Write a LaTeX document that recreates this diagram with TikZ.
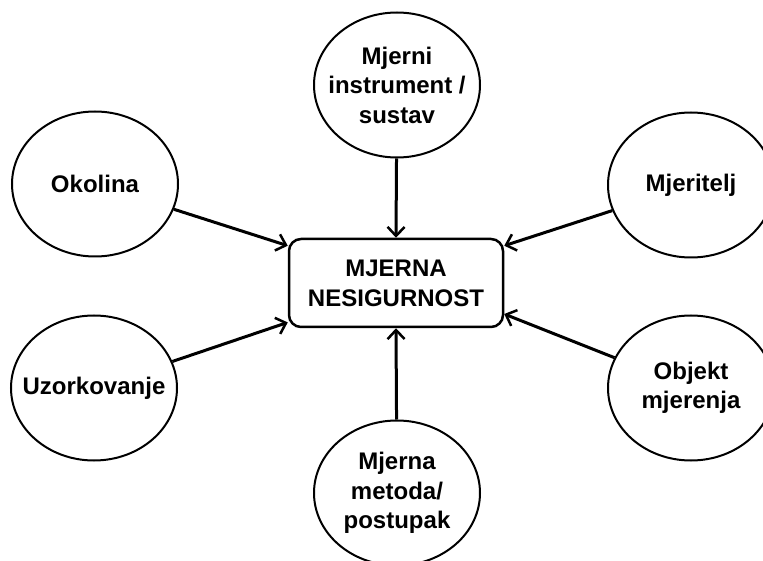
\documentclass[tikz,border=0pt]{standalone}
\usepackage{fontspec}
\setmainfont{Liberation Sans}
\usetikzlibrary{shapes.geometric,arrows.meta}
\tikzset{
  x=1pt, y=-1pt,
  ell/.style={draw=black, line width=2pt, ellipse, minimum width=166pt, minimum height=145pt, inner sep=0pt},
  lab/.style={align=center, font=\fontsize{24}{29.5}\selectfont\bfseries, inner sep=0pt},
  centre/.style={draw=black, line width=2.5pt, rounded corners=12pt, minimum width=214pt, minimum height=88pt, align=center, font=\fontsize{24}{30}\selectfont\bfseries},
  arr/.style={line width=3pt, -{Straight Barb[length=9pt,width=17pt,line width=2.5pt]}}
}
\begin{document}
\begin{tikzpicture}
\useasboundingbox (0,0) rectangle (763,561);
\node[centre] (box) at (396,283) {MJERNA\\NESIGURNOST};
\node[ell, label={[lab]center:Mjerni\\instrument /\\sustav}] (instr) at (397,85) {};
\node[ell, label={[lab]center:Okolina}] (okolina) at (95,184) {};
\node[ell, label={[lab]center:Mjeritelj}] (mjeritelj) at (691,185) {};
\node[ell, label={[lab]center:Uzorkovanje}] (uzork) at (94,388) {};
\node[ell, label={[lab]center:Objekt\\mjerenja}] (objekt) at (691,388) {};
\node[ell, label={[lab]center:Mjerna\\metoda/\\postupak}] (metoda) at (397,493) {};
\draw[arr] (instr) -- (box.north);
\draw[arr] (metoda) -- (box.south);
\draw[arr] (okolina) -- (box.161);
\draw[arr] (mjeritelj) -- (box.19);
\draw[arr] (uzork) -- (box.200);
\draw[arr] (objekt) -- (box.344);
\end{tikzpicture}
\end{document}
